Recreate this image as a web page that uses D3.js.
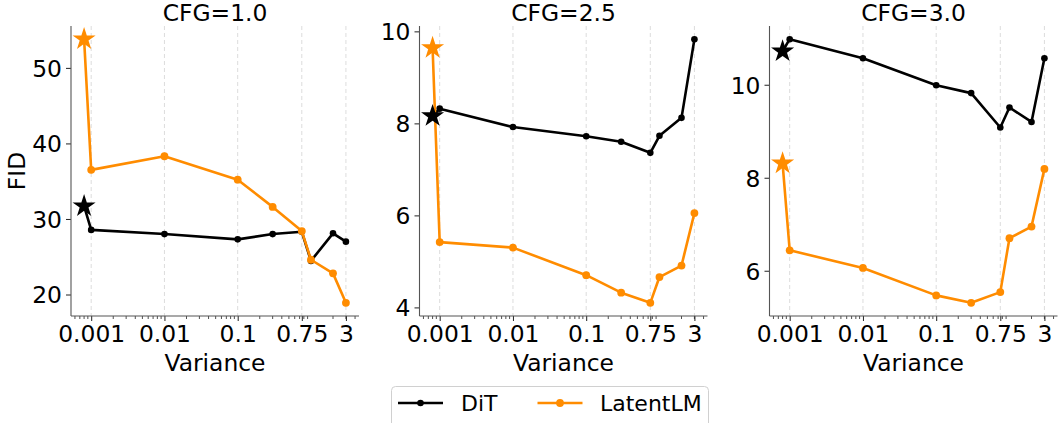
<!DOCTYPE html>
<html>
<head>
<meta charset="utf-8">
<script src="https://cdn.jsdelivr.net/npm/d3@7"></script>
<style>
  body { margin: 0; background: #fff; }
  svg { display: block; font-family: "DejaVu Sans", sans-serif; }
</style>
</head>
<body>
<div id="chart"></div>
<script>
// x values (variance), star point is the leftmost one
var variances = [0.0008, 0.001, 0.01, 0.1, 0.3, 0.75, 1, 2, 3];
var xTickValues = [0.001, 0.01, 0.1, 0.75, 3];
var xTickLabels = ["0.001", "0.01", "0.1", "0.75", "3"];

var cfgTitles = ["CFG=1.0", "CFG=2.5", "CFG=3.0"];
var yTicks = [[20, 30, 40, 50], [4, 6, 8, 10], [6, 8, 10]];

// FID per panel (first value = star marker)
var ditCfg10 = [31.7, 28.55, 28.0, 27.3, 28.0, 28.3, 24.45, 28.1, 27.0];
var ditCfg25 = [8.16, 8.32, 7.92, 7.72, 7.60, 7.36, 7.73, 8.12, 9.83];
var ditCfg30 = [10.72, 10.98, 10.57, 9.99, 9.82, 9.08, 9.51, 9.20, 10.57];

var latentCfg10 = [53.8, 36.5, 38.3, 35.2, 31.6, 28.4, 24.6, 22.8, 18.9];
var latentCfg25 = [9.64, 5.42, 5.30, 4.70, 4.32, 4.10, 4.66, 4.91, 6.05];
var latentCfg30 = [8.31, 6.44, 6.06, 5.47, 5.31, 5.54, 6.70, 6.95, 8.19];

var seriesNames = ["DiT", "LatentLM"];
var seriesColors = ["#000000", "#ff8c00"];

var panels = [
  {title: cfgTitles[0], ticks: yTicks[0], dit: ditCfg10, latent: latentCfg10},
  {title: cfgTitles[1], ticks: yTicks[1], dit: ditCfg25, latent: latentCfg25},
  {title: cfgTitles[2], ticks: yTicks[2], dit: ditCfg30, latent: latentCfg30}
];

var W = 1058, H = 423;
var panelLeft = [71, 419.5, 769.5],
    panelWidth = 288,
    plotTop = 26, plotBottom = 316,
    fontSize = 23.4;

var svg = d3.select("#chart").append("svg")
  .attr("width", W).attr("height", H);

// log x domain with 5% margin like matplotlib
var lx = d3.extent(variances).map(Math.log10);
var padX = (lx[1] - lx[0]) * 0.05;
var xDomain = [Math.pow(10, lx[0] - padX), Math.pow(10, lx[1] + padX)];

// minor ticks 2..9 per decade
var minorTicks = [];
for (var e = -4; e <= 0; e++) {
  for (var m = 2; m <= 9; m++) {
    var v = m * Math.pow(10, e);
    if (v >= xDomain[0] && v <= xDomain[1]) minorTicks.push(v);
  }
}

var starSym = d3.symbol().type(d3.symbolStar).size(165);

panels.forEach(function(p, i) {
  var g = svg.append("g").attr("transform", "translate(" + panelLeft[i] + ",0)");

  var x = d3.scaleLog().domain(xDomain).range([0, panelWidth]);

  var all = p.dit.concat(p.latent);
  var ext = d3.extent(all);
  var padY = (ext[1] - ext[0]) * 0.05;
  var y = d3.scaleLinear().domain([ext[0] - padY, ext[1] + padY]).range([plotBottom, plotTop]);

  // dashed vertical grid at major ticks
  g.selectAll(".grid").data(xTickValues).enter().append("line")
    .attr("class", "grid")
    .attr("x1", d => x(d)).attr("x2", d => x(d))
    .attr("y1", plotTop).attr("y2", plotBottom)
    .attr("stroke", "#d8d8d8").attr("stroke-width", 0.9)
    .attr("stroke-dasharray", "4,3");

  // x axis
  var xAxis = g.append("g")
    .attr("transform", "translate(0," + plotBottom + ")")
    .call(d3.axisBottom(x)
      .tickValues(xTickValues)
      .tickFormat((d, k) => xTickLabels[k])
      .tickSize(5).tickPadding(4));
  xAxis.selectAll(".tick line").attr("stroke", "#222").attr("stroke-width", 1);
  g.append("g")
    .attr("transform", "translate(0," + plotBottom + ")")
    .selectAll("line").data(minorTicks).enter().append("line")
    .attr("x1", d => x(d)).attr("x2", d => x(d))
    .attr("y1", 0).attr("y2", 3)
    .attr("stroke", "#222").attr("stroke-width", 0.8);

  // y axis
  var yAxis = g.append("g")
    .call(d3.axisLeft(y).tickValues(p.ticks).tickFormat(d3.format("d"))
      .tickSize(5).tickPadding(4));
  yAxis.selectAll(".tick line").attr("stroke", "#222").attr("stroke-width", 1);

  [xAxis, yAxis].forEach(function(a) {
    a.select(".domain").remove();
    a.selectAll("text")
      .attr("font-family", "DejaVu Sans")
      .attr("font-size", fontSize)
      .attr("fill", "#000");
  });
  xAxis.selectAll("text").attr("dy", "0.74em");
  yAxis.selectAll("text").attr("dy", "0.36em");

  // spines: left and bottom only
  g.append("line").attr("x1", 0).attr("x2", 0).attr("y1", plotTop).attr("y2", plotBottom)
    .attr("stroke", "#555").attr("stroke-width", 1.1);
  g.append("line").attr("x1", 0).attr("x2", panelWidth).attr("y1", plotBottom).attr("y2", plotBottom)
    .attr("stroke", "#555").attr("stroke-width", 1.1);

  // title
  g.append("text")
    .attr("x", panelWidth / 2).attr("y", 21)
    .attr("text-anchor", "middle")
    .attr("font-size", fontSize)
    .text(p.title);

  // x label
  g.append("text")
    .attr("x", panelWidth / 2).attr("y", 371)
    .attr("text-anchor", "middle")
    .attr("font-size", fontSize)
    .text("Variance");

  if (i === 0) {
    svg.append("text")
      .attr("transform", "translate(25," + ((plotTop + plotBottom) / 2) + ") rotate(-90)")
      .attr("text-anchor", "middle")
      .attr("font-size", fontSize)
      .text("FID");
  }

  var line = d3.line().x((d, k) => x(variances[k])).y(d => y(d));
  var series = [p.dit, p.latent];
  var radius = [3.3, 3.9];

  series.forEach(function(vals, s) {
    g.append("path")
      .attr("d", line(vals))
      .attr("fill", "none")
      .attr("stroke", seriesColors[s])
      .attr("stroke-width", 2.6)
      .attr("stroke-linejoin", "round");
    g.selectAll(".dot" + s).data(vals.slice(1)).enter().append("circle")
      .attr("class", "dot" + s)
      .attr("cx", (d, k) => x(variances[k + 1]))
      .attr("cy", d => y(d))
      .attr("r", radius[s])
      .attr("fill", seriesColors[s]);
  });

  // star markers on top
  series.forEach(function(vals, s) {
    g.append("path")
      .attr("d", starSym())
      .attr("transform", "translate(" + x(variances[0]) + "," + y(vals[0]) + ")")
      .attr("fill", seriesColors[s]);
  });
});

// legend
var leg = svg.append("g");
leg.append("rect")
  .attr("x", 391.5).attr("y", 386.5)
  .attr("width", 317).attr("height", 50)
  .attr("rx", 4).attr("ry", 4)
  .attr("fill", "#fff").attr("stroke", "#d0d0d0").attr("stroke-width", 1);

var legX = [398, 537.5], legTextX = [461, 600];
seriesNames.forEach(function(name, s) {
  leg.append("line")
    .attr("x1", legX[s]).attr("x2", legX[s] + 45)
    .attr("y1", 403).attr("y2", 403)
    .attr("stroke", seriesColors[s]).attr("stroke-width", 2.6);
  leg.append("circle")
    .attr("cx", legX[s] + 22.5).attr("cy", 403)
    .attr("r", s === 0 ? 3.3 : 3.9)
    .attr("fill", seriesColors[s]);
  leg.append("text")
    .attr("x", legTextX[s]).attr("y", 411)
    .attr("font-size", 22)
    .text(name);
});
</script>
</body>
</html>
